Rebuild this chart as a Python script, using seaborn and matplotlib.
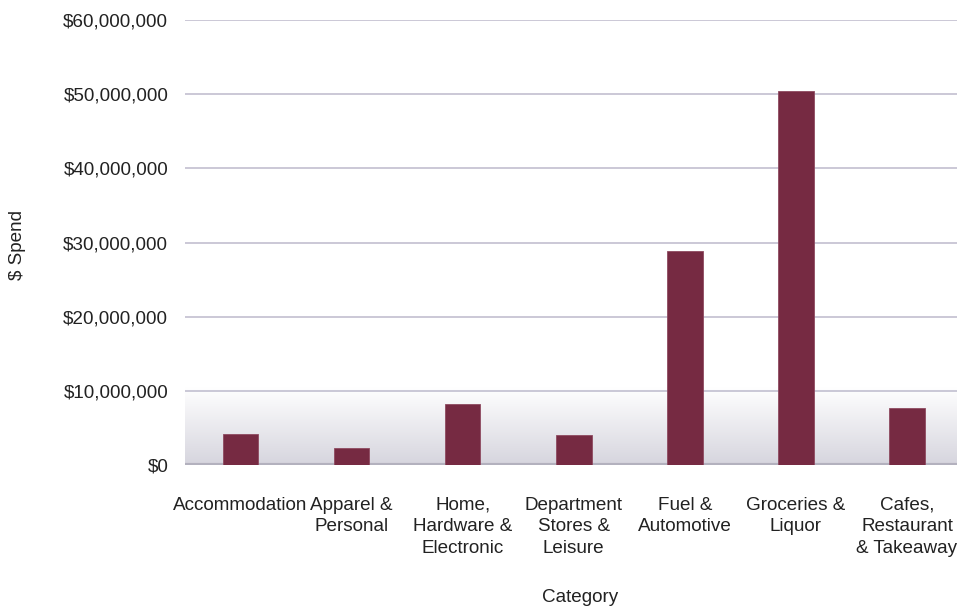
import numpy as np
import pandas as pd
import matplotlib
matplotlib.use('Agg')
import matplotlib.pyplot as plt
import seaborn as sns
from matplotlib.ticker import FuncFormatter

# data
categories = ['Accommodation', 'Apparel &\nPersonal', 'Home,\nHardware &\nElectronic',
              'Department\nStores &\nLeisure', 'Fuel &\nAutomotive', 'Groceries &\nLiquor',
              'Cafes,\nRestaurant\n& Takeaway']
spend = [4.2e6, 2.3e6, 8.2e6, 4.1e6, 28.9e6, 50.4e6, 7.7e6]

df = pd.DataFrame({'Category': categories, 'Spend': spend})

sns.set_style('white')
plt.rcParams['font.family'] = ['Liberation Sans', 'DejaVu Sans']
plt.rcParams['text.color'] = '#222222'

fig = plt.figure(figsize=(9.57, 6.08), dpi=100)
ax = fig.add_axes([185/957, 1-465/608, (957-185)/957, (465-20)/608])

# soft floor gradient under 10M (white at top, grey at bottom)
grad = np.linspace(0, 1, 256).reshape(-1, 1)
cmap = matplotlib.colors.LinearSegmentedColormap.from_list('floor', ['#ffffff', '#d6d5de'])
ax.imshow(grad, cmap=cmap, aspect='auto', extent=(-0.5, 6.45, 0, 10.5e6),
          origin='upper', zorder=0)

for v in range(10_000_000, 60_000_001, 10_000_000):
    ax.axhline(v, color='#c2bfd0', lw=1.2, zorder=1)
ax.axhline(0, color='#b3b1be', lw=3, zorder=1)

sns.barplot(data=df, x='Category', y='Spend', color='#762a42', width=0.32,
            saturation=1, edgecolor='#8e4a60', linewidth=0.6, ax=ax, zorder=3)

ax.set_xlim(-0.5, 6.45)
ax.set_ylim(0, 60e6)
ax.set_yticks(range(0, 60_000_001, 10_000_000))
ax.yaxis.set_major_formatter(FuncFormatter(lambda v, p: f'${v:,.0f}'))
for s in ax.spines.values():
    s.set_visible(False)
ax.tick_params(axis='both', length=0, labelsize=13.6, colors='#222222')
ax.tick_params(axis='y', pad=12)
ax.tick_params(axis='x', pad=23)
for lbl in ax.get_xticklabels():
    lbl.set_linespacing(1.35)
    lbl.set_verticalalignment('top')

ax.set_xlabel('')
ax.set_ylabel('')
fig.text(580/957, 1-597/608, 'Category', ha='center', va='center', fontsize=13.6)
fig.text(18/957, 1-245/608, '$ Spend', ha='center', va='center', rotation=90, fontsize=13.6)

fig.savefig('out.png', dpi=100)
